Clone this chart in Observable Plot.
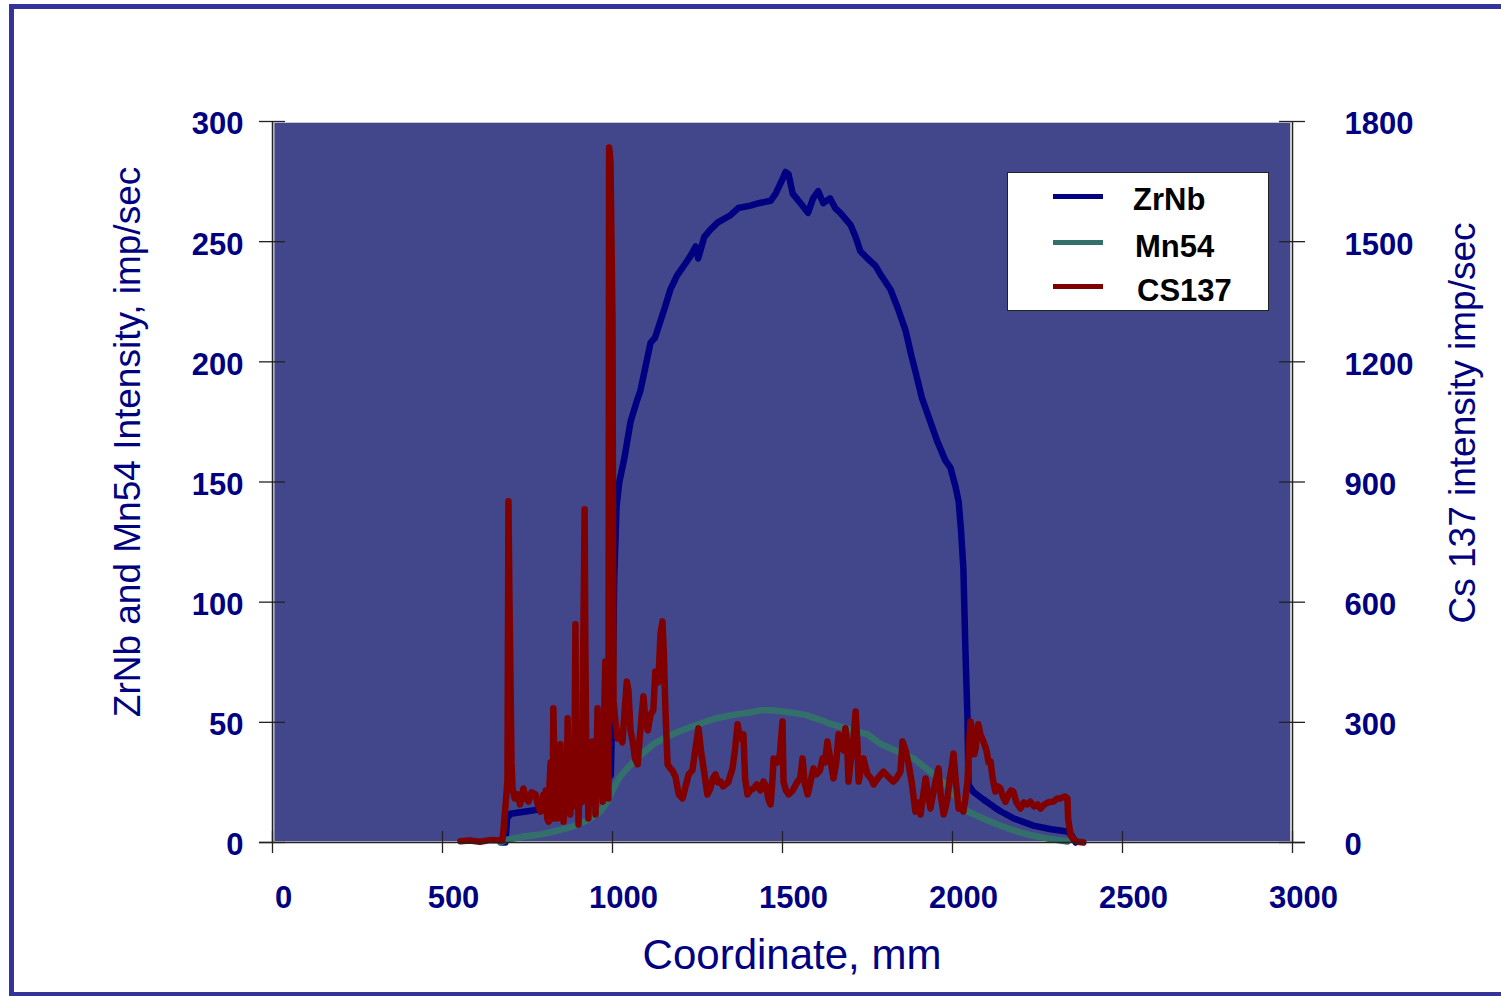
<!DOCTYPE html>
<html><head><meta charset="utf-8">
<script src="https://cdn.jsdelivr.net/npm/d3@7"></script>
<script src="https://cdn.jsdelivr.net/npm/@observablehq/plot@0.6"></script>
<style>
html,body{margin:0;padding:0;background:#fff;overflow:hidden;}
#wrap{position:relative;width:1501px;height:996px;overflow:hidden;font-family:"Liberation Sans",Arial,sans-serif;}
#border{position:absolute;left:9px;top:4px;width:1700px;height:983px;border:5px solid #333399;}
#chart{position:absolute;left:0;top:0;}
.t{position:absolute;white-space:nowrap;color:#000080;line-height:1;}
#legend{position:absolute;left:1007px;top:172px;width:262px;height:139px;box-sizing:border-box;background:#fff;border:1.5px solid #222;}
.lg-line{position:absolute;left:1053px;width:50px;height:5px;}
.lg-text{position:absolute;font-weight:bold;font-size:31px;line-height:31px;color:#000;white-space:nowrap;}
</style>
</head><body>
<div id="wrap">
<div id="border"></div>
<div id="chart"></div>
</div>
<script>
// ---- data ----
const seriesNames = ["ZrNb", "Mn54", "CS137"];
const seriesColors = ["#000080", "#33706b", "#800000"];

const zrnbX = [675,685,690,700,750,797,850,900,960,995,1000,1005,1012,1020,1035,1053,1070,1082,1100,1112,1125,1141,1155,1170,1190,1210,1229,1245,1252,1260,1270,1288,1310,1347,1370,1406,1430,1465,1480,1500,1509,1518,1530,1553,1575,1590,1605,1620,1640,1655,1670,1700,1715,1729,1750,1773,1790,1818,1840,1862,1880,1891,1910,1935,1955,1979,1994,2009,2018,2025,2032,2038,2044,2047,2062,2090,2120,2141,2180,2238,2290,2338,2350,2362];
const zrnbY = [0,0,10,12,13,14,17,19,22,28,60,110,140,150,160,175,183,188,200,208,210,217,223,230,236,240,244,248,243,247,252,255,258,261,264,265,266,267,270,276,279,278,270,266,262,268,271,266,268,264,262,257,252,246,243,240,236,230,222,213,202,196,185,175,167,159,156,148,142,130,114,80,52,24,21,18,15,13,10,7,5.5,4.6,3,0];

const mn54X = [670,690,740,788,840,885,930,965,985,1003,1020,1044,1080,1121,1160,1200,1259,1300,1350,1400,1435,1470,1494,1530,1570,1610,1650,1700,1750,1788,1838,1885,1930,1974,2010,2044,2090,2132,2180,2230,2279,2338];
const mn54Y = [0,1.2,2.5,3.3,5,6.7,9.5,13,17,22.5,27,31,36,41,44,46.5,49.5,51.5,53,54,55,55,54.6,54,53,51,49,47,45,41,38,35,30,25,19,13,10,7.5,5,3,1.7,0.4];

const csX = [553,580,610,640,676,679,691,694,697,700,703,706,712,721,728,738,745,753,762,774,780,788,797,800,804,808,812,815,818,820,822,824,826,829,832,835,838,840,842,845,847,849,851,854,856,859,862,865,868,870,872,874,876,879,882,885,887,889,891,893,895,897,900,903,905,908,910,912,914,916,918,920,922,924,926,928,929,932,935,938,941,943,945,948,950,953,956,958,960,963,965,968,971,973,975,977,979,981,983,986,988,990,994,1000,1003,1009,1015,1020,1029,1035,1042,1047,1053,1060,1066,1074,1080,1086,1091,1097,1104,1112,1120,1126,1135,1141,1147,1151,1156,1162,1170,1176,1185,1195,1206,1215,1224,1235,1245,1253,1260,1268,1274,1279,1288,1295,1303,1310,1318,1325,1332,1340,1353,1360,1368,1375,1385,1390,1397,1405,1415,1425,1435,1444,1452,1458,1465,1470,1474,1485,1492,1500,1503,1510,1518,1530,1544,1552,1559,1565,1574,1582,1591,1600,1610,1618,1625,1632,1640,1650,1658,1665,1672,1680,1685,1690,1694,1700,1708,1715,1720,1724,1730,1738,1750,1760,1768,1780,1797,1810,1826,1835,1847,1853,1862,1871,1880,1891,1898,1906,1914,1921,1928,1935,1945,1952,1959,1965,1974,1980,1985,1992,1998,2003,2010,2018,2025,2032,2038,2044,2049,2053,2058,2064,2068,2072,2076,2082,2091,2100,2106,2112,2118,2126,2133,2141,2148,2156,2165,2172,2179,2188,2200,2210,2220,2229,2240,2250,2259,2270,2280,2297,2308,2318,2330,2338,2340,2347,2355,2368,2385];
const csY = [3,5,2,6,5,27,152,852,600,402,200,135,110,120,95,135,110,102,125,120,95,77,120,80,130,60,52,150,200,90,150,60,335,200,120,230,60,150,200,80,245,150,100,200,52,130,180,90,310,180,120,220,70,180,250,90,200,300,545,250,150,220,45,180,250,100,200,300,500,650,832,500,300,150,100,200,60,170,220,100,252,180,120,230,70,200,335,220,150,280,250,150,102,200,300,380,452,300,200,250,110,1735,1700,1300,352,300,260,270,250,320,402,380,280,250,210,195,260,320,365,300,280,320,330,427,400,520,552,470,320,195,185,180,165,120,110,140,170,180,240,285,230,185,150,120,135,160,170,150,152,140,145,150,185,230,295,260,270,160,120,130,135,145,130,152,140,110,95,150,210,200,220,302,152,130,120,130,152,160,210,150,120,150,185,170,180,210,200,252,210,160,200,270,240,230,285,250,152,200,250,327,250,152,180,210,170,160,145,160,177,165,152,160,177,252,230,195,150,77,100,70,120,160,120,85,130,160,185,120,70,90,110,160,190,222,150,85,90,77,110,152,250,302,280,220,235,270,295,270,252,230,200,202,160,127,140,135,115,102,120,130,127,100,85,100,95,102,90,95,85,95,100,102,110,110,115,110,60,20,8,2,0];

const xTicks = [0, 500, 1000, 1500, 2000, 2500, 3000];
const yTicks = [0, 50, 100, 150, 200, 250, 300];
const csTicks = [0, 300, 600, 900, 1200, 1500, 1800];
const csToLeft = 300 / 1800; // right axis (0–1800) shares the left axis (0–300)

const leftTitle = "ZrNb and Mn54 Intensity, imp/sec";
const rightTitle = "Cs 137 intensity imp/sec";
const xTitle = "Coordinate, mm";

// ---- tables ----
const zrnb = zrnbX.map((x, i) => ({x, y: zrnbY[i]}));
const mn54 = mn54X.map((x, i) => ({x, y: mn54Y[i]}));
const cs = csX.map((x, i) => ({x, y: csY[i] * csToLeft}));

const W = 1501, H = 996, ML = 272, MR = 209, MT = 121, MB = 154;
const innerW = W - ML - MR, innerH = H - MT - MB;
const tick = 13;

const navy = "#000080";
const tickFont = {fontSize: 31, fontWeight: "bold", fill: navy};
const lineStyle = {strokeWidth: 6.5, strokeLinejoin: "round", strokeLinecap: "round"};
const axisStroke = {stroke: "#222", strokeWidth: 1.3};

const chart = Plot.plot({
  width: W, height: H,
  marginLeft: ML, marginRight: MR, marginTop: MT, marginBottom: MB,
  x: {domain: [0, 3000], axis: null},
  y: {domain: [0, 300], axis: null},
  style: {background: "transparent", fontFamily: "'Liberation Sans', Arial, sans-serif", overflow: "visible"},
  marks: [
    Plot.frame({fill: "#42478b", stroke: "#c8c8d0", strokeWidth: 1, insetLeft: 1.5, insetRight: 2, insetTop: 1, insetBottom: 1}),
    Plot.line(zrnb, {x: "x", y: "y", stroke: seriesColors[0], ...lineStyle}),
    Plot.line(mn54, {x: "x", y: "y", stroke: seriesColors[1], ...lineStyle}),
    Plot.line(cs, {x: "x", y: "y", stroke: seriesColors[2], ...lineStyle}),
    // axis lines
    Plot.ruleX([0, 3000], {...axisStroke, strokeWidth: 1.5}),
    Plot.ruleY([0], {...axisStroke, strokeWidth: 1.5, insetLeft: -tick, insetRight: -tick}),
    // crossing tick marks
    Plot.ruleX(xTicks, {...axisStroke, insetTop: innerH - tick + 2, insetBottom: -tick + 2}),
    Plot.ruleY(yTicks, {...axisStroke, insetLeft: -tick, insetRight: innerW - tick}),
    Plot.ruleY(yTicks, {...axisStroke, insetLeft: innerW - tick, insetRight: -tick}),
    // tick labels
    Plot.text(xTicks, {x: d => d, text: d => String(d), frameAnchor: "bottom", lineAnchor: "top", dy: 43, dx: 11, ...tickFont}),
    Plot.text(yTicks, {y: d => d, text: d => String(d), frameAnchor: "left", textAnchor: "end", dx: -29, dy: 3, ...tickFont}),
    Plot.text(csTicks, {y: d => d * csToLeft, text: d => String(d), frameAnchor: "right", textAnchor: "start", dx: 52, dy: 3, ...tickFont})
  ]
});
document.getElementById("chart").appendChild(chart);

// ---- titles & legend (HTML around the SVG) ----
const wrap = document.getElementById("wrap");
function addText(txt, css) {
  const d = document.createElement("div");
  d.className = "t";
  d.textContent = txt;
  Object.assign(d.style, css);
  wrap.appendChild(d);
  return d;
}
addText(leftTitle, {left: "127px", top: "442px", fontSize: "37px", transform: "translate(-50%,-50%) rotate(-90deg)"});
addText(rightTitle, {left: "1462px", top: "423px", fontSize: "37px", transform: "translate(-50%,-50%) rotate(-90deg)"});
addText(xTitle, {left: "792px", top: "955px", fontSize: "42px", transform: "translate(-50%,-50%)"});

const legend = document.createElement("div");
legend.id = "legend";
wrap.appendChild(legend);
const lineTops = [194, 240, 284];
const textTops = [184, 231, 275];
const textLefts = [1133, 1135, 1137];
seriesNames.forEach((name, i) => {
  const l = document.createElement("div");
  l.className = "lg-line";
  l.style.top = lineTops[i] + "px";
  l.style.background = seriesColors[i];
  wrap.appendChild(l);
  const t = document.createElement("div");
  t.className = "lg-text";
  t.textContent = name;
  t.style.left = textLefts[i] + "px";
  t.style.top = textTops[i] + "px";
  wrap.appendChild(t);
});
</script>
</body></html>
